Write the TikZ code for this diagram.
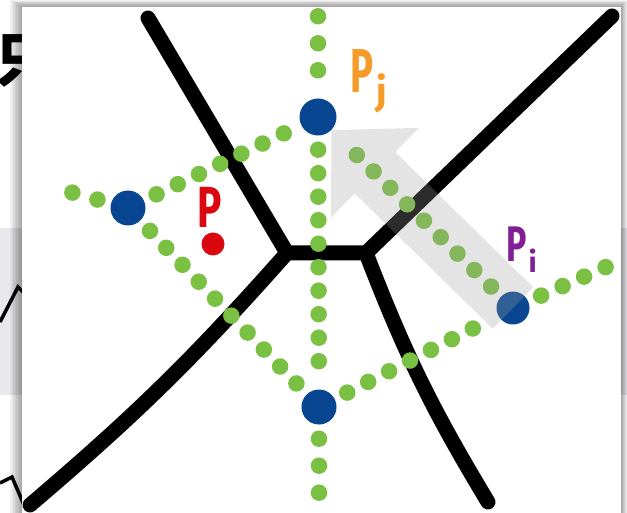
\documentclass[tikz,border=0pt]{standalone}
\usepackage{fontspec}
\usepackage{graphicx}
\newfontfamily\handfont{Fira Sans}
\newfontfamily\cjkfont{Noto Sans CJK SC}
\usetikzlibrary{arrows.meta}
\definecolor{dotgreen}{RGB}{122,192,66}
\definecolor{siteblue}{RGB}{8,70,146}
\definecolor{pred}{RGB}{218,8,14}
\definecolor{porange}{RGB}{245,156,40}
\definecolor{ppurple}{RGB}{128,32,148}
\definecolor{bandgrey}{RGB}{233,233,236}
\definecolor{arrowgrey}{RGB}{160,160,160}

\begin{document}
\begin{tikzpicture}[x=1pt,y=-1pt,
  site/.style={circle,fill=siteblue,minimum size=35pt,inner sep=0pt},
  cell/.style={line width=15pt,line cap=round,line join=round},
  dual/.style={draw=dotgreen,line width=16.5pt,line cap=round,dash pattern=on 0pt off 23.5pt,shorten <=14pt,shorten >=14pt},
  lbl/.style={inner sep=0pt,anchor=base west,font=\handfont\bfseries}]
\useasboundingbox (0,0) rectangle (627,513);
% slide behind the screenshot
\fill[bandgrey] (0,228) rectangle (627,395);
\node[anchor=north west,inner sep=0pt,font=\cjkfont\bfseries\fontsize{60}{60}\selectfont] (zhi) at (-6,34) {只};
\draw[line width=3.5pt] (0,322) -- (18,287) -- (24,293);
\draw[line width=3.5pt] (0,483) -- (12,477) -- (24,505);
\foreach \s in {1,...,8}
  \fill[black,opacity=.05] (22-1.5*\s,7-.9*\s) rectangle (621+.8*\s,520);
\fill[white] (22,7) rectangle (621,520);

% voronoi cells
\coordinate (v1) at (287,253);
\coordinate (v2) at (366,253);
\coordinate (e1) at (148,18);
\coordinate (e2) at (30,505);
\coordinate (e3) at (612,16);
\coordinate (e4) at (488,502);
\draw[cell] (e1) -- (v1) -- (v2) -- (e3);
\draw[cell] (v1) to[bend left=4] (e2);
\draw[cell] (v2) to[bend right=5] (e4);

% sites
\node[site,minimum size=37pt] (pj) at (318,117) {};
\node[site] (pl) at (128,208) {};
\node[site] (pb) at (319,407) {};
\node[site,minimum size=33pt] (pi) at (513,308) {};

% delaunay edges
\coordinate (rtop) at (318,0);
\coordinate (rbot) at (319,510);
\coordinate (rleft) at (34,182);
\coordinate (rright) at (624,259);
\draw[dual] (pl) -- (pj);
\draw[dual] (pl) -- (pb);
\draw[dual] (pb) -- (pi);
\draw[dual] (pi) -- (pj);
\draw[dual] (pj) -- (pb);
\draw[dual,shorten <=28pt,dash pattern=on 0pt off 27pt] (pj) -- (rtop);
\draw[dual,dash pattern=on 0pt off 27pt] (pb) -- (rbot);
\draw[dual,dash pattern=on 0pt off 26pt] (pl) -- (rleft);
\draw[dual] (pi) -- (rright);

% query point and labels
\node[circle,fill=pred,minimum size=23pt,inner sep=0pt] (p) at (213,244) {};
\node[lbl,text=pred] (plbl) at (197,228) {\fontsize{58}{58}\selectfont\scalebox{.7}[1]{P}};
\node[lbl,text=porange] (pjlbl) at (350,93) {\fontsize{62}{62}\selectfont\scalebox{.62}[1]{P}\hspace{3pt}\raisebox{-12pt}{\fontsize{38}{38}\selectfont j}};
\node[lbl,text=ppurple] (pilbl) at (506,262) {\fontsize{50}{50}\selectfont\scalebox{.68}[1]{P}\hspace{2pt}\raisebox{-11pt}{\fontsize{29}{29}\selectfont i}};

% walk towards the neighbour
\begin{scope}[transparency group,opacity=.28]
\draw[arrowgrey,line width=58pt,-{Triangle[length=61pt,width=122pt]}] (pi.center) -- (pj);
\end{scope}
\end{tikzpicture}
\end{document}
